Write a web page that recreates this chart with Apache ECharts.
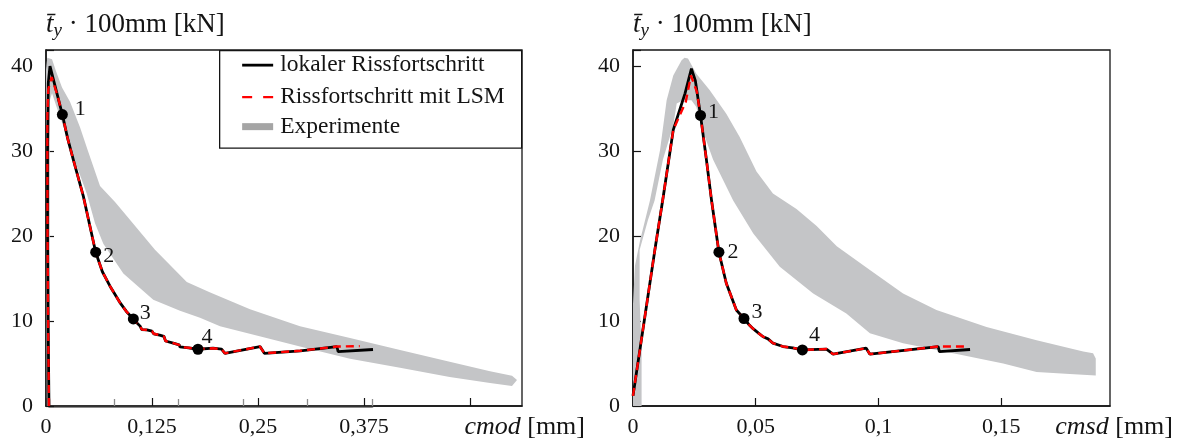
<!DOCTYPE html>
<html>
<head>
<meta charset="utf-8">
<script src="https://cdn.jsdelivr.net/npm/echarts@6/dist/echarts.min.js"></script>
<style>
  html, body { margin: 0; padding: 0; background: #fff; }
  #chart { width: 1182px; height: 441px; }
</style>
</head>
<body>
<div id="chart"></div>
<script>
// ---- cmod diagram (left) ----
// simulation with local crack growth: [cmod in mm, force in kN]
const cmodLocal = [
  [0.0035, 0], [0.0025, 10], [0.0018, 20], [0.0018, 30], [0.0027, 38.0], [0.0047, 40.0],
  [0.0193, 34.3], [0.0255, 31.5], [0.0322, 29.0], [0.044, 24.7], [0.0515, 21.3], [0.0586, 18.1],
  [0.0665, 15.8], [0.0755, 14.1], [0.087, 12.2], [0.095, 11.1], [0.103, 10.25], [0.107, 9.8],
  [0.111, 9.4], [0.113, 9.0], [0.119, 8.95], [0.125, 8.8], [0.127, 8.5], [0.134, 8.35],
  [0.139, 8.2], [0.141, 7.65], [0.150, 7.4], [0.157, 7.2], [0.158, 6.95], [0.168, 6.85],
  [0.1792, 6.68], [0.197, 6.8], [0.207, 6.7], [0.211, 6.2], [0.2524, 7.0], [0.2575, 6.2],
  [0.300, 6.5], [0.343, 7.0], [0.3445, 6.4], [0.3856, 6.65]
];
// simulation with level set method
const cmodLsm = [
  [0.0035, 0], [0.0025, 10], [0.0018, 20], [0.0016, 30], [0.0016, 34.1], [0.0027, 37.3], [0.0067, 38.7],
  [0.0138, 36.45], [0.0193, 34.3], [0.0255, 31.5], [0.0322, 29.0], [0.044, 24.7], [0.0515, 21.3], [0.0586, 18.1],
  [0.0665, 15.8], [0.0755, 14.1], [0.087, 12.2], [0.095, 11.1], [0.103, 10.25], [0.107, 9.8],
  [0.111, 9.4], [0.113, 9.0], [0.119, 8.95], [0.125, 8.8], [0.127, 8.5], [0.134, 8.35],
  [0.139, 8.2], [0.141, 7.65], [0.150, 7.4], [0.157, 7.2], [0.158, 6.95], [0.168, 6.85],
  [0.1792, 6.68], [0.197, 6.8], [0.207, 6.7], [0.211, 6.2], [0.2524, 7.0], [0.2575, 6.2],
  [0.300, 6.5], [0.343, 7.0], [0.370, 7.05]
];
// scatter range of the experiments (outline: upper bound, then lower bound back)
const cmodExpBand = [
  [0.000, 39.6], [0.0015, 41.0], [0.0071, 40.8], [0.0118, 39.4], [0.0189, 37.5], [0.0283, 35.8],
  [0.0401, 32.8], [0.0495, 30.0], [0.0637, 25.9], [0.0814, 24.0], [0.095, 22.4], [0.1285, 18.4],
  [0.166, 14.6], [0.193, 13.4], [0.221, 12.2], [0.2406, 11.4], [0.2995, 9.4], [0.3585, 8.0],
  [0.4175, 6.6], [0.476, 5.2], [0.5236, 4.1], [0.5495, 3.55], [0.5554, 3.07],
  [0.5495, 2.36], [0.5236, 2.7], [0.476, 3.4], [0.4175, 4.5], [0.3585, 5.55], [0.2995, 7.0],
  [0.26, 8.0], [0.2052, 9.4], [0.1816, 10.4], [0.158, 11.2], [0.1265, 12.5], [0.0912, 15.6],
  [0.0676, 19.1], [0.0578, 21.5], [0.048, 25.0], [0.0342, 28.8], [0.0236, 32.0], [0.0142, 34.7],
  [0.0071, 36.8], [0.0045, 36.0], [0.0045, 20], [0.0042, 0], [0.0010, 0], [0.0, 20]
];
// numbered states 1-4 on the simulated curve
const cmodMarks = [[0.0193, 34.3], [0.0586, 18.1], [0.103, 10.25], [0.1792, 6.68]];

// ---- cmsd diagram (right) ----
const cmsdLocal = [
  [0.0, 1.2], [0.0089, 18.35], [0.0123, 24.6], [0.0164, 32.5], [0.0212, 36.8], [0.0238, 39.7],
  [0.0254, 38.3], [0.0275, 34.2], [0.0299, 29.0], [0.0319, 24.4], [0.035, 18.1], [0.038, 14.45],
  [0.0421, 11.3], [0.0452, 10.3], [0.0475, 9.5], [0.0489, 9.1], [0.051, 8.6], [0.053, 8.15],
  [0.055, 7.9], [0.057, 7.4], [0.0611, 7.0], [0.065, 6.85], [0.069, 6.6], [0.0788, 6.7],
  [0.0815, 6.1], [0.095, 6.8], [0.0965, 6.1], [0.1243, 7.0], [0.1248, 6.4], [0.1373, 6.65]
];
const cmsdLsm = [
  [0.0, 1.2], [0.0089, 18.35], [0.0123, 24.6], [0.0164, 32.5], [0.0215, 35.8], [0.0236, 38.9],
  [0.026, 37.0], [0.0275, 34.2], [0.0299, 29.0], [0.0319, 24.4], [0.035, 18.1], [0.038, 14.45],
  [0.0421, 11.3], [0.0452, 10.3], [0.0475, 9.5], [0.0489, 9.1], [0.051, 8.6], [0.053, 8.15],
  [0.055, 7.9], [0.057, 7.4], [0.0611, 7.0], [0.065, 6.85], [0.069, 6.6], [0.0788, 6.7],
  [0.0815, 6.1], [0.095, 6.8], [0.0965, 6.1], [0.1243, 7.0], [0.1353, 7.0]
];
const cmsdExpBand = [
  [0.0, 0], [0.0, 12], [0.0008, 16.5], [0.0029, 19.5], [0.0069, 24.2], [0.011, 30.1], [0.0137, 36.0],
  [0.0164, 38.9], [0.0198, 40.7], [0.021, 41.0], [0.0224, 40.9], [0.0258, 39.1], [0.0312, 37.2],
  [0.038, 34.4], [0.0434, 31.7], [0.0503, 27.6], [0.057, 25.0], [0.0666, 23.2], [0.0748, 21.2],
  [0.083, 18.8], [0.0965, 16.0], [0.110, 13.25], [0.1236, 11.3], [0.144, 9.3], [0.1644, 7.75],
  [0.1834, 6.4], [0.1874, 6.2], [0.1885, 5.6], [0.1885, 3.6],
  [0.1779, 3.76], [0.1644, 4.0], [0.1508, 5.0], [0.1304, 6.2], [0.110, 7.4], [0.0965, 8.55],
  [0.0869, 10.9], [0.0734, 13.25], [0.0598, 16.4], [0.049, 20.3], [0.0408, 24.2], [0.0394, 25.0],
  [0.0326, 29.0], [0.0278, 32.9], [0.0258, 35.2], [0.0238, 36.0], [0.0205, 36.0], [0.0178, 35.6],
  [0.0164, 33.0], [0.0122, 29.0], [0.0088, 24.2], [0.0061, 21.9], [0.0027, 18.35], [0.0027, 12.5],
  [0.0035, 6.6], [0.0035, 0]
];
const cmsdMarks = [[0.0275, 34.2], [0.035, 18.1], [0.0452, 10.3], [0.069, 6.6]];

// ---- labels ----
const markNames = ['1', '2', '3', '4'];
const yTickLabels = ['0', '10', '20', '30', '40'];
const cmodTickLabels = ['0', '0,125', '0,25', '0,375', ''];
const cmsdTickLabels = ['0', '0,05', '0,1', '0,15'];
const legendNames = ['lokaler Rissfortschritt', 'Rissfortschritt mit LSM', 'Experimente'];

const FONT = '"Liberation Serif", "Times New Roman", serif';
const INK = '#141414';
const BAND = '#c4c5c7';
const RED = '#ff0000';

const cmodNudge = [[18, -5], [13, 4], [12, -6], [9, -12]];
const cmsdNudge = [[13, -3], [14, 0], [13, -6], [12, -15]];

function yAxisFor(gridIndex) {
  return {
    type: 'value', gridIndex, min: 0, max: 41.9, interval: 10,
    name: '{t|t\u0304}{s|y}{n| \u00b7 100mm [kN]}',
    nameLocation: 'end', nameGap: 25,
    nameTextStyle: {
      align: 'left', verticalAlign: 'middle',
      rich: {
        t: { fontFamily: FONT, fontSize: 27, fontStyle: 'italic', lineHeight: 30, color: INK },
        s: { fontFamily: FONT, fontSize: 19, fontStyle: 'italic', lineHeight: 16, verticalAlign: 'bottom', color: INK },
        n: { fontFamily: FONT, fontSize: 27, lineHeight: 30, color: INK }
      }
    },
    axisLine: { show: true, lineStyle: { color: INK, width: 1.5 } },
    axisTick: { show: true, inside: true, length: 8, lineStyle: { color: INK, width: 1.2 } },
    axisLabel: {
      margin: 13, fontFamily: FONT, fontSize: 22, color: INK,
      formatter: (v, i) => yTickLabels[i] ?? ''
    },
    splitLine: { show: false }
  };
}

function xAxisFor(gridIndex, max, interval, labels, title) {
  return {
    type: 'value', gridIndex, min: 0, max, interval,
    name: '{i|' + title + '} [mm]',
    nameLocation: 'end', nameGap: 63,
    nameTextStyle: {
      align: 'right', verticalAlign: 'top', padding: [8, 0, 0, 0],
      fontFamily: FONT, fontSize: 26, color: INK,
      rich: { i: { fontFamily: FONT, fontSize: 26, fontStyle: 'italic', color: INK } }
    },
    axisLine: { show: true, lineStyle: { color: INK, width: 1.5 } },
    axisTick: { show: true, inside: true, length: 8, lineStyle: { color: INK, width: 1.2 } },
    axisLabel: {
      margin: 10, fontFamily: FONT, fontSize: 22, color: INK,
      showMaxLabel: false,
      formatter: (v, i) => labels[i] ?? ''
    },
    splitLine: { show: false }
  };
}

function bandSeries(axisIndex, outline) {
  return {
    type: 'custom', xAxisIndex: axisIndex, yAxisIndex: axisIndex,
    data: outline, clip: true, z: 1, silent: true,
    renderItem: (params, api) => {
      if (params.dataIndex !== 0) return null;
      return {
        type: 'polygon',
        shape: { points: outline.map(p => api.coord(p)) },
        style: { fill: BAND }
      };
    }
  };
}

function curveSeries(axisIndex, data, name, dashed) {
  return {
    type: 'line', name, xAxisIndex: axisIndex, yAxisIndex: axisIndex,
    data, symbol: 'none', clip: true, z: dashed ? 4 : 3, silent: true,
    lineStyle: dashed
      ? { color: RED, width: 2.4, type: [8, 5] }
      : { color: '#000', width: 2.8 }
  };
}

function markSeries(axisIndex, data, nudge) {
  return {
    type: 'scatter', xAxisIndex: axisIndex, yAxisIndex: axisIndex,
    data: data.map((p, i) => ({ value: p, label: { offset: nudge[i] } })),
    symbol: 'circle', symbolSize: 11, z: 6, silent: true,
    itemStyle: { color: '#000', opacity: 1 },
    label: {
      show: true, position: 'inside',
      fontFamily: FONT, fontSize: 22, color: INK,
      formatter: p => markNames[p.dataIndex]
    }
  };
}

const chart = echarts.init(document.getElementById('chart'), null, { renderer: 'canvas' });

chart.setOption({
  animation: false,
  backgroundColor: '#fff',
  textStyle: { fontFamily: FONT },
  grid: [
    // secondary gray scale along the cmod axis
    { left: 49.5, top: 50, width: 322.5, height: 356, show: false },
    { left: 46, top: 50, width: 476, height: 356, show: true, borderColor: INK, borderWidth: 1.3 },
    { left: 633, top: 50, width: 477, height: 356, show: true, borderColor: INK, borderWidth: 1.3 }
  ],
  xAxis: [
    {
      type: 'value', gridIndex: 0, min: 0, max: 5, interval: 1,
      axisLine: { show: true, lineStyle: { color: '#8c8c8c', width: 3 } },
      axisTick: { show: true, inside: true, length: 7, lineStyle: { color: '#8c8c8c', width: 1.3 } },
      axisLabel: { show: false }, splitLine: { show: false }
    },
    xAxisFor(1, 0.5613, 0.125, cmodTickLabels, 'cmod'),
    xAxisFor(2, 0.1943, 0.05, cmsdTickLabels, 'cmsd')
  ],
  yAxis: [
    { type: 'value', gridIndex: 0, min: 0, max: 1, show: false },
    yAxisFor(1),
    yAxisFor(2)
  ],
  series: [
    bandSeries(1, cmodExpBand),
    curveSeries(1, cmodLocal, legendNames[0], false),
    curveSeries(1, cmodLsm, legendNames[1], true),
    markSeries(1, cmodMarks, cmodNudge),
    bandSeries(2, cmsdExpBand),
    curveSeries(2, cmsdLocal, legendNames[0], false),
    curveSeries(2, cmsdLsm, legendNames[1], true),
    markSeries(2, cmsdMarks, cmsdNudge)
  ],
  graphic: [
    {
      type: 'group', left: 219, top: 50, z: 20,
      children: [
        { type: 'rect', shape: { x: 0.5, y: 0.5, width: 302, height: 97.5 },
          style: { fill: '#fff', stroke: INK, lineWidth: 1.3 } },
        { type: 'line', shape: { x1: 23, y1: 15, x2: 54, y2: 15 },
          style: { stroke: '#000', lineWidth: 2.8 } },
        { type: 'line', shape: { x1: 23, y1: 47, x2: 54, y2: 47 },
          style: { stroke: RED, lineWidth: 2.2, lineDash: [10, 11] } },
        { type: 'rect', shape: { x: 23, y: 73, width: 31, height: 7 },
          style: { fill: '#a5a5a5' } },
        { type: 'text', x: 61, y: 15, style: { text: legendNames[0], font: '23.5px ' + FONT, fill: INK, verticalAlign: 'middle' } },
        { type: 'text', x: 61, y: 47, style: { text: legendNames[1], font: '23.5px ' + FONT, fill: INK, verticalAlign: 'middle' } },
        { type: 'text', x: 61, y: 77, style: { text: legendNames[2], font: '23.5px ' + FONT, fill: INK, verticalAlign: 'middle' } }
      ]
    }
  ]
});
</script>
</body>
</html>
